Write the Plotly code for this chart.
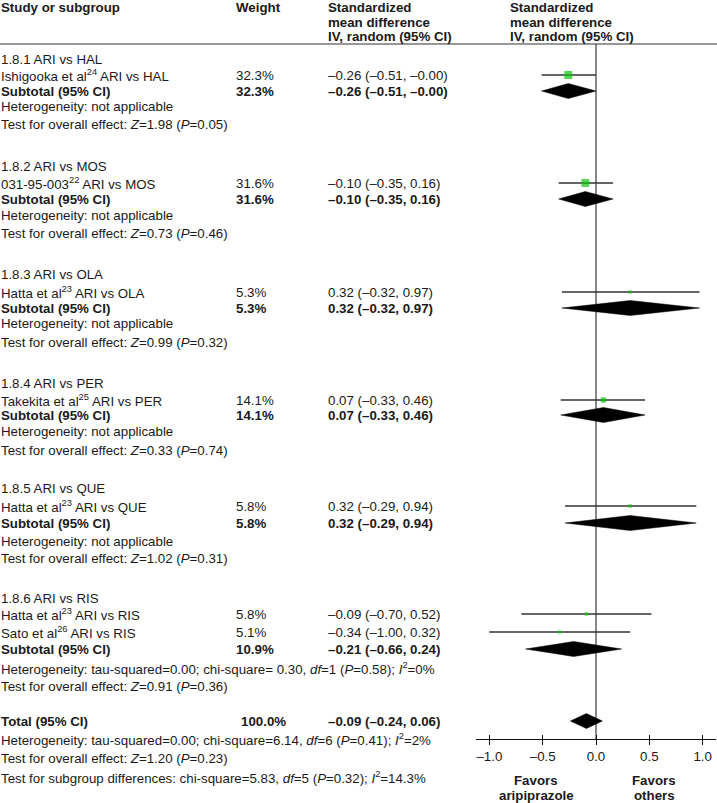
import plotly.graph_objects as go

# ---------------- data ----------------
study_names = [
    "Ishigooka et al<sup>24</sup> ARI vs HAL",
    "031-95-003<sup>22</sup> ARI vs MOS",
    "Hatta et al<sup>23</sup> ARI vs OLA",
    "Takekita et al<sup>25</sup> ARI vs PER",
    "Hatta et al<sup>23</sup> ARI vs QUE",
    "Hatta et al<sup>23</sup> ARI vs RIS",
    "Sato et al<sup>26</sup> ARI vs RIS",
]
study_weight = [32.3, 31.6, 5.3, 14.1, 5.8, 5.8, 5.1]
study_smd = [-0.26, -0.10, 0.32, 0.07, 0.32, -0.09, -0.34]
study_lo = [-0.51, -0.35, -0.32, -0.33, -0.29, -0.70, -1.00]
study_hi = [-0.00, 0.16, 0.97, 0.46, 0.94, 0.52, 0.32]
study_group = [0, 1, 2, 3, 4, 5, 5]

group_labels = ["1.8.1 ARI vs HAL", "1.8.2 ARI vs MOS", "1.8.3 ARI vs OLA",
                "1.8.4 ARI vs PER", "1.8.5 ARI vs QUE", "1.8.6 ARI vs RIS"]
group_weight = [32.3, 31.6, 5.3, 14.1, 5.8, 10.9]
group_smd = [-0.26, -0.10, 0.32, 0.07, 0.32, -0.21]
group_lo = [-0.51, -0.35, -0.32, -0.33, -0.29, -0.66]
group_hi = [-0.00, 0.16, 0.97, 0.46, 0.94, 0.24]
group_het = ["not applicable"] * 5 + [
    "tau-squared=0.00; chi-square= 0.30, <i>df</i>=1 (<i>P</i>=0.58); <i>I</i><sup>2</sup>=0%"]
group_z = [1.98, 0.73, 0.99, 0.33, 1.02, 0.91]
group_p = [0.05, 0.46, 0.32, 0.74, 0.31, 0.36]

total_weight = 100.0
total_smd, total_lo, total_hi = -0.09, -0.24, 0.06
total_het = "tau-squared=0.00; chi-square=6.14, <i>df</i>=6 (<i>P</i>=0.41); <i>I</i><sup>2</sup>=2%"
total_z, total_p = 1.20, 0.23
subgroup_test = "chi-square=5.83, <i>df</i>=5 (<i>P</i>=0.32); <i>I</i><sup>2</sup>=14.3%"

tick_vals = [-1.0, -0.5, 0.0, 0.5, 1.0]
tick_text = ["–1.0", "–0.5", "0.0", "0.5", "1.0"]

# ---------------- layout rows (pixel y) ----------------
group_header_y = [60, 166, 274, 383, 488, 598]
study_y = [75, 183, 292, 400, 506, 614, 632]
subtotal_y = [91, 199, 308, 415, 523, 649]
het_y = [107, 216, 324, 432, 541, 668]
test_y = [125, 233, 342, 450, 558, 686]
total_y, total_het_y, total_test_y, subgroup_y = 721, 739, 758, 777
W, H = 717, 803
AXIS_Y = 739
HEADER_LINE_Y = 44

FONT = "Arial, Liberation Sans, sans-serif"
TXT = "#1a1a1a"
FS = 13.3


def fmt(v):
    return f"{v:.2f}".replace("-", "–")


def ci_text(m, lo, hi):
    return f"{fmt(m)} ({fmt(lo)}, {fmt(hi)})"


fig = go.Figure()
annots = []


def txt(xpx, ypx, s, bold=False, size=FS, xanchor="left"):
    if bold:
        s = f"<b>{s}</b>"
    annots.append(dict(x=xpx / W, xref="paper", y=(H - ypx) / H, yref="paper", text=s,
                       showarrow=False, xanchor=xanchor, yanchor="middle",
                       font=dict(family=FONT, size=size, color=TXT),
                       borderpad=0))


COL1, COL_W, COL_CI = 0, 235, 327

# header
txt(COL1, 7, "Study or subgroup", bold=True)
txt(COL_W, 7, "Weight", bold=True)
for yy, s in zip([7, 22, 37], ["Standardized", "mean difference", "IV, random (95% CI)"]):
    txt(COL_CI, yy, s, bold=True)
    txt(509, yy, s, bold=True)

# groups
for g in range(len(group_labels)):
    txt(COL1, group_header_y[g], group_labels[g])
    for i, sg in enumerate(study_group):
        if sg == g:
            txt(COL1, study_y[i], study_names[i])
            txt(COL_W, study_y[i], f"{study_weight[i]:.1f}%")
            txt(COL_CI, study_y[i], ci_text(study_smd[i], study_lo[i], study_hi[i]))
    txt(COL1, subtotal_y[g], "Subtotal (95% CI)", bold=True)
    txt(COL_W, subtotal_y[g], f"{group_weight[g]:.1f}%", bold=True)
    txt(COL_CI, subtotal_y[g], ci_text(group_smd[g], group_lo[g], group_hi[g]), bold=True)
    txt(COL1, het_y[g], "Heterogeneity: " + group_het[g])
    txt(COL1, test_y[g], f"Test for overall effect: <i>Z</i>={group_z[g]:.2f} (<i>P</i>={group_p[g]:.2f})")

txt(COL1, total_y, "Total (95% CI)", bold=True)
txt(240, total_y, f"{total_weight:.1f}%", bold=True)
txt(COL_CI, total_y, ci_text(total_smd, total_lo, total_hi), bold=True)
txt(COL1, total_het_y, "Heterogeneity: " + total_het)
txt(COL1, total_test_y, f"Test for overall effect: <i>Z</i>={total_z:.2f} (<i>P</i>={total_p:.2f})")
txt(COL1, subgroup_y, "Test for subgroup differences: " + subgroup_test)

# favors labels
for xpx, l1, l2 in [(536, "Favors", "aripiprazole"), (654, "Favors", "others")]:
    txt(xpx, 780, l1, bold=True, xanchor="center")
    txt(xpx, 795, l2, bold=True, xanchor="center")

# vertical line of no effect
fig.add_trace(go.Scatter(x=[0, 0], y=[HEADER_LINE_Y, AXIS_Y], mode="lines",
                         line=dict(color="#111", width=1), hoverinfo="skip"))

# study CI lines
cx, cy = [], []
for lo, hi, y in zip(study_lo, study_hi, study_y):
    cx += [lo, hi, None]
    cy += [y, y, None]
fig.add_trace(go.Scatter(x=cx, y=cy, mode="lines", line=dict(color="#333", width=1.3),
                         hoverinfo="skip"))

# study squares
fig.add_trace(go.Scatter(x=study_smd, y=study_y, mode="markers",
                         marker=dict(symbol="square", color="#0cc40c",
                                     size=[1.4 * w ** 0.5 for w in study_weight],
                                     line=dict(width=0)),
                         hoverinfo="skip"))

# diamonds
HH = 7.5
dx, dy = [], []
for m, lo, hi, y in list(zip(group_smd, group_lo, group_hi, subtotal_y)) + [(total_smd, total_lo, total_hi, total_y)]:
    dx += [lo, m, hi, m, lo, None]
    dy += [y, y - HH, y, y + HH, y, None]
fig.add_trace(go.Scatter(x=dx, y=dy, mode="lines", fill="toself", fillcolor="#000",
                         line=dict(color="#000", width=0.5), hoverinfo="skip"))

# dummy trace on xaxis2 to show inner ticks
fig.add_trace(go.Scatter(x=[0], y=[AXIS_Y], xaxis="x2", mode="markers",
                         marker=dict(opacity=0), hoverinfo="skip"))

fig.update_layout(
    width=W, height=H, margin=dict(l=0, r=0, t=0, b=0),
    paper_bgcolor="white", plot_bgcolor="white", showlegend=False,
    xaxis=dict(domain=[476 / W, 716 / W], range=[-1.125, 1.125], showgrid=False,
               zeroline=False, showline=True, linecolor="#111", linewidth=1,
               ticks="outside", ticklen=5, tickwidth=1, tickcolor="#111",
               tickvals=tick_vals, ticktext=tick_text,
               tickfont=dict(family=FONT, size=FS, color=TXT), fixedrange=True),
    xaxis2=dict(domain=[476 / W, 716 / W], range=[-1.125, 1.125], overlaying="x",
                anchor="y", side="bottom", showgrid=False, zeroline=False,
                showline=False, ticks="inside", ticklen=4, tickwidth=1,
                tickcolor="#111", tickvals=tick_vals, showticklabels=False),
    yaxis=dict(domain=[(H - AXIS_Y) / H, 1], range=[AXIS_Y, 0], visible=False,
               showgrid=False, zeroline=False, fixedrange=True),
    annotations=annots,
    shapes=[dict(type="line", xref="paper", x0=0, x1=1, yref="y",
                 y0=HEADER_LINE_Y, y1=HEADER_LINE_Y, line=dict(color="#333", width=1.2))],
)

fig.write_html("out.html", config={"displayModeBar": False},
               post_script="document.body.style.margin='0';document.body.style.overflow='hidden';")
